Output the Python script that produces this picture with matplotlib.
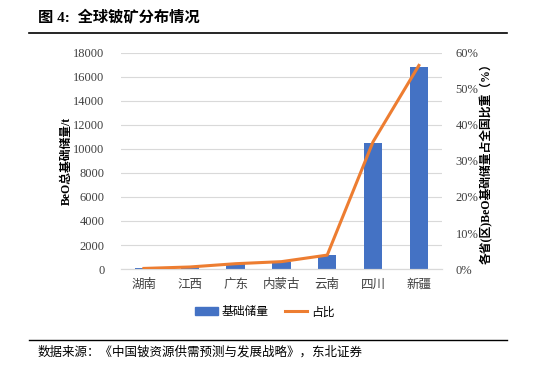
import matplotlib
matplotlib.use("Agg")
import matplotlib.pyplot as plt
from matplotlib.lines import Line2D
from matplotlib.patches import Patch

plt.rcParams['font.family'] = ['Liberation Serif', 'Noto Sans CJK SC']

# 数据
provinces = ["湖南", "江西", "广东", "内蒙古", "云南", "四川", "新疆"]
reserves = [50, 170, 440, 610, 1150, 10500, 16800]
shares = [0.0017, 0.0057, 0.0148, 0.0205, 0.0387, 0.353, 0.565]

bar_color = "#4472C4"
line_color = "#ED7D31"
grid_color = "#D9D9D9"

fig = plt.figure(figsize=(5.55, 3.8), dpi=100)
ax = fig.add_axes([0.218, 0.292, 0.578, 0.569])
ax2 = ax.twinx()

x = range(len(provinces))
ax.bar(x, reserves, width=0.4, color=bar_color, zorder=2)
ax2.plot(x, shares, color=line_color, linewidth=2.2, zorder=3)

ax.set_ylim(0, 18000)
ax.set_yticks(range(0, 18001, 2000))
ax.set_xlim(-0.5, len(provinces) - 0.5)
ax.set_xticks(list(x))
ax.set_xticklabels(provinces, fontsize=9)
ax2.set_ylim(0, 0.6)
ax2.set_yticks([i / 10 for i in range(7)])
ax2.set_yticklabels([f"{i * 10}%" for i in range(7)])

ax.yaxis.grid(True, color=grid_color, linewidth=0.8, zorder=0)
ax.set_axisbelow(True)
for a in (ax, ax2):
    for s in ("top", "left", "right"):
        a.spines[s].set_visible(False)
    a.spines["bottom"].set_color(grid_color)
    a.tick_params(length=0, labelsize=9, colors="#404040")
ax.tick_params(axis="y", pad=12)
ax2.tick_params(axis="y", pad=10)
ax.tick_params(axis="x", pad=7)

ax.set_ylabel("BeO总基础储量/t", fontsize=8.5, fontweight="bold", labelpad=0)
ax2.set_ylabel("各省(区)BeO基础储量占全国比重（%）", fontsize=8.5,
               fontweight="bold", rotation=90, labelpad=1)

handles = [Patch(color=bar_color), Line2D([0], [0], color=line_color, lw=2.2)]
fig.legend(handles, ["基础储量", "占比"], loc="center", bbox_to_anchor=(0.477, 0.178),
           ncol=2, frameon=False, fontsize=8.5, handlelength=1.9, columnspacing=1.4,
           handletextpad=0.3)

# 标题与来源
fig.text(0.068, 0.953, "图 4:  全球铍矿分布情况", fontsize=11, fontweight="bold", va="center")
fig.add_artist(Line2D([0.052, 0.913], [0.913, 0.913], color="black", lw=1.2))
fig.add_artist(Line2D([0.052, 0.913], [0.105, 0.105], color="black", lw=1.0))
fig.text(0.068, 0.072, "数据来源：《中国铍资源供需预测与发展战略》，东北证券", fontsize=9,
         va="center")

fig.savefig("out.png", dpi=100)
